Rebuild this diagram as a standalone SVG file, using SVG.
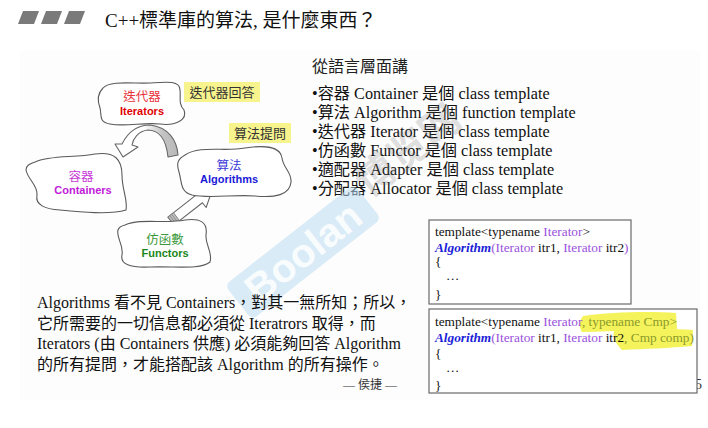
<svg xmlns="http://www.w3.org/2000/svg" width="708" height="428" viewBox="0 0 708 428">
  <defs>
    <style>
      .serif { font-family: "Liberation Serif", "Noto Sans CJK TC", serif; }
      .sans { font-family: "Liberation Sans", "Noto Sans CJK TC", sans-serif; }
      .cloud { fill: #ffffff; stroke: #5a5a5a; stroke-width: 1.1; }
      .tag { fill: #f7f48e; }
      .tagtxt { font-family: "Noto Sans CJK TC", sans-serif; font-size: 13px; fill: #333; }
      .cjk { font-family: "Noto Sans CJK TC", sans-serif; font-size: 12.5px; }
      .en { font-family: "Liberation Sans", sans-serif; font-size: 11px; font-weight: bold; }
      .bullet { font-size: 16.2px; fill: #111; }
      .para { font-size: 16px; fill: #111; }
      .code { font-family: "Liberation Serif", serif; font-size: 13.3px; fill: #111; }
      .it { fill: #9a52dc; }
      .alg { fill: #1b22d8; font-weight: bold; font-style: italic; }
      .cmp { fill: #8a9a2a; }
      .box { fill: #ffffff; stroke: #6a6a6a; stroke-width: 1.2; }
    </style>
    <linearGradient id="arcFill" x1="0" y1="0" x2="1" y2="0">
      <stop offset="0" stop-color="#ffffff"/>
      <stop offset="0.45" stop-color="#ffffff"/>
      <stop offset="0.75" stop-color="#c4c4c4"/>
      <stop offset="1" stop-color="#b8b8b8"/>
    </linearGradient>
  </defs>

  <rect width="708" height="428" fill="#ffffff"/>
  <rect x="20" y="50" width="680" height="350" fill="#fdfdfd"/>

  <!-- title -->
  <g id="title">
    <polygon points="23,11 39,11 34,24 18,24" fill="#7a7a7a"/>
    <polygon points="46,11 62,11 57,24 41,24" fill="#7a7a7a"/>
    <polygon points="69,11 85,11 80,24 64,24" fill="#7a7a7a"/>
    <text class="serif" x="105" y="27" font-size="19" fill="#111">C++標準庫的算法, 是什麼東西？</text>
  </g>

  <g id="connectors">
    <!-- curved arrow: Algorithms ask, Iterators answer -->
    <path d="M122,144 L115,144 L123,157 L138,147 L132,145
             C133,139 138,131 148,130 C158,130 166,138 168,157
             L178,155 C177,140 168,127 150,125 C137,125 128,132 122,144 Z"
          fill="url(#arcFill)" stroke="#666" stroke-width="1.1" stroke-linejoin="round"/>
    <!-- block arrow: Functors to Algorithms -->
    <g transform="translate(171,221) rotate(-38)">
      <polygon points="0,-5 36,-5 36,-11 53,0 36,11 36,5 0,5" fill="#ffffff" stroke="#666" stroke-width="1.1" stroke-linejoin="round"/>
      <rect x="0" y="-5" width="7" height="10" fill="#bdbdbd" stroke="#777" stroke-width="0.8"/>
      <line x1="2.3" y1="-5" x2="2.3" y2="5" stroke="#888" stroke-width="0.8"/>
      <line x1="4.6" y1="-5" x2="4.6" y2="5" stroke="#888" stroke-width="0.8"/>
    </g>
  </g>

  <g id="node-iterators">
    <path class="cloud" d="M103,88 C110,80 135,84 150,83 C165,82 180,80 180,90 C181,98 178,103 184,110 C188,120 175,126 160,124 C145,122 125,127 110,124 C98,122 102,115 100,108 C97,100 98,93 103,88 Z"/>
    <text class="cjk" x="142" y="101" text-anchor="middle" fill="#e8323a">迭代器</text>
    <text class="en" x="142" y="115" text-anchor="middle" fill="#e00000">Iterators</text>
  </g>

  <g id="node-containers">
    <path class="cloud" d="M35,162 C50,155 75,158 95,154 C115,151 122,160 122,175 C122,190 128,200 126,210 C110,215 80,212 60,210 C45,209 35,205 37,195 C38,185 28,180 26,170 C26,165 30,164 35,162 Z"/>
    <text class="cjk" x="81" y="181" text-anchor="middle" fill="#c73ad6">容器</text>
    <text class="en" x="83" y="194" text-anchor="middle" fill="#c020d8">Containers</text>
  </g>

  <g id="node-algorithms">
    <path class="cloud" d="M185,155 C200,145 225,152 245,148 C265,145 280,146 282,158 C283,168 292,172 291,182 C290,195 275,198 255,196 C235,194 210,199 192,195 C180,192 182,182 179,172 C176,163 178,159 185,155 Z"/>
    <text class="cjk" x="229" y="170" text-anchor="middle" fill="#3a3ad8">算法</text>
    <text class="en" x="229" y="183" text-anchor="middle" fill="#1a1ad8">Algorithms</text>
  </g>

  <g id="node-functors">
    <path class="cloud" d="M125,225 C140,218 165,224 185,220 C200,218 208,222 206,235 C205,245 213,252 210,262 C200,270 175,266 150,267 C130,268 120,264 122,255 C124,245 116,238 118,230 C119,227 121,226 125,225 Z"/>
    <text class="cjk" x="165" y="244" text-anchor="middle" fill="#3c9a3c">仿函數</text>
    <text class="en" x="165" y="257" text-anchor="middle" fill="#1a861a">Functors</text>
  </g>

  <g id="tag-answer">
    <rect class="tag" x="184" y="82" width="76" height="20"/>
    <text class="tagtxt" x="222" y="97" text-anchor="middle">迭代器回答</text>
  </g>
  <g id="tag-ask">
    <rect class="tag" x="229" y="123" width="62" height="20"/>
    <text class="tagtxt" x="260" y="138" text-anchor="middle">算法提問</text>
  </g>

  <!-- language-level list -->
  <g id="language-view" class="serif">
    <text x="312" y="72" font-size="16" fill="#222">從語言層面講</text>
    <text class="bullet" x="312" y="99">•容器 Container 是個 class template</text>
    <text class="bullet" x="312" y="118">•算法 Algorithm 是個 function template</text>
    <text class="bullet" x="312" y="137">•迭代器 Iterator 是個 class template</text>
    <text class="bullet" x="312" y="156">•仿函數 Functor 是個 class template</text>
    <text class="bullet" x="312" y="175">•適配器 Adapter 是個 class template</text>
    <text class="bullet" x="312" y="194">•分配器 Allocator 是個 class template</text>
  </g>

  <!-- watermark -->
  <g id="watermark">
    <g transform="translate(303,252) rotate(-38)">
      <rect x="-82" y="-22" width="164" height="44" rx="6" fill="#bcdcf3" opacity="0.55"/>
      <text x="0" y="14" text-anchor="middle" font-family="Liberation Sans, sans-serif" font-weight="bold" font-size="40" fill="#ffffff" opacity="0.85">Boolan</text>
    </g>
    <g transform="translate(408,150) rotate(-38)">
      <text x="0" y="14" text-anchor="middle" font-family="Noto Sans CJK TC, sans-serif" font-weight="bold" font-size="40" fill="#777" opacity="0.22">博览网</text>
    </g>
  </g>

  <!-- explanation -->
  <g id="explanation" class="serif">
    <text class="para" x="37" y="308">Algorithms 看不見 Containers，對其一無所知；所以，</text>
    <text class="para" x="37" y="329">它所需要的一切信息都必須從 Iteratrors 取得，而</text>
    <text class="para" x="37" y="349">Iterators (由 Containers 供應) 必須能夠回答 Algorithm</text>
    <text class="para" x="37" y="370">的所有提問，才能搭配該 Algorithm 的所有操作。</text>
    <text x="370" y="389" text-anchor="middle" font-size="12" fill="#333">— 侯捷 —</text>
  </g>

  <text class="serif" x="695" y="389" font-size="14" fill="#333">5</text>

  <!-- code sample: two iterators -->
  <g id="code-basic">
    <rect class="box" x="429" y="220" width="202" height="84"/>
    <text class="code" x="435" y="236">template&lt;typename <tspan class="it">Iterator</tspan>&gt;</text>
    <text class="code" x="435" y="252"><tspan class="alg">Algorithm</tspan><tspan class="it">(Iterator</tspan> itr1, <tspan class="it">Iterator</tspan> itr2<tspan class="it">)</tspan></text>
    <text class="code" x="435" y="266">{</text>
    <text class="code" x="446" y="280">…</text>
    <text class="code" x="435" y="299">}</text>
  </g>

  <!-- code sample: with comparator -->
  <g id="code-compare">
    <rect class="box" x="429" y="309" width="268" height="84"/>
    <path d="M583,316 C610,312 650,311 676,313 L677,329 C650,330 615,331 582,332 C578,326 580,320 583,316 Z" fill="#f5f35c"/>
    <path d="M614,331 C640,329 670,328 693,330 L692,346 C670,348 645,349 622,350 C616,344 612,337 614,331 Z" fill="#f5f35c"/>
    <text class="code" x="435" y="326">template&lt;typename <tspan class="it">Iterator</tspan><tspan class="cmp">, typename Cmp&gt;</tspan></text>
    <text class="code" x="435" y="342"><tspan class="alg">Algorithm</tspan><tspan class="it">(Iterator</tspan> itr1, <tspan class="it">Iterator</tspan> itr2<tspan class="cmp">, Cmp comp)</tspan></text>
    <text class="code" x="435" y="358">{</text>
    <text class="code" x="446" y="372">…</text>
    <text class="code" x="435" y="390">}</text>
  </g>
</svg>
